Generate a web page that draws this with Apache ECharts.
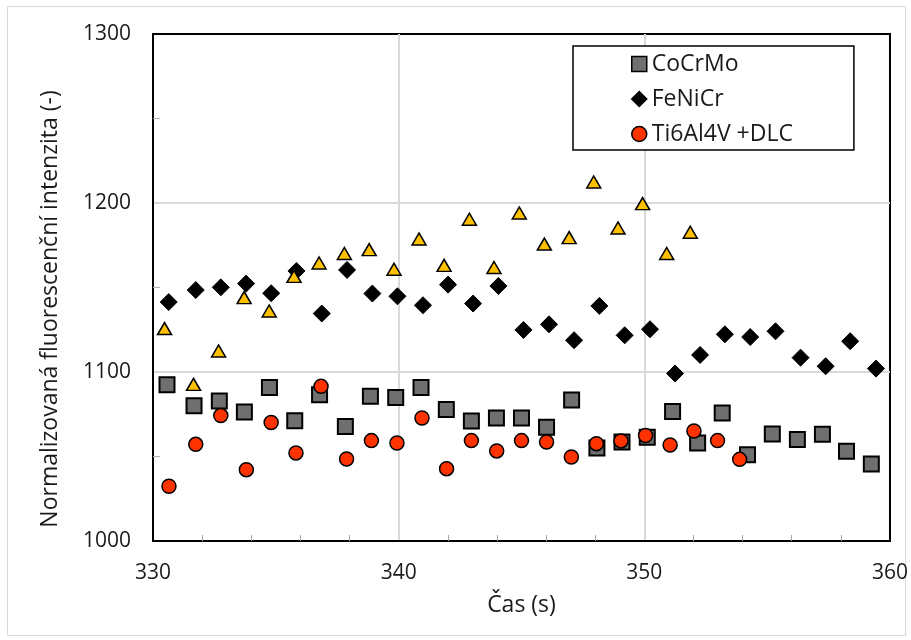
<!DOCTYPE html>
<html>
<head>
<meta charset="utf-8">
<script src="https://cdn.jsdelivr.net/npm/echarts@6/dist/echarts.min.js"></script>
<style>
  html, body { margin: 0; padding: 0; background: #fff; }
  #chart { width: 911px; height: 640px; }
</style>
</head>
<body>
<div id="chart"></div>
<script>
// Time stamps (s) and normalised fluorescence intensities for each sample
const timeCoCrMo = [330.57,331.67,332.70,333.72,334.74,335.77,336.78,337.83,338.85,339.88,340.91,341.94,342.96,343.98,345.00,346.02,347.04,348.07,349.09,350.12,351.15,352.17,353.17,354.20,355.21,356.23,357.25,358.23,359.24];
const valCoCrMo  = [1092.5,1080.1,1082.8,1076.3,1090.9,1071.2,1086.6,1067.7,1085.6,1084.9,1090.8,1077.8,1071.0,1072.8,1072.8,1067.3,1083.4,1055.0,1058.6,1061.4,1076.6,1058.0,1075.7,1051.1,1063.3,1060.0,1063.1,1053.1,1045.6];

const timeFeNiCr = [330.64,331.74,332.76,333.79,334.81,335.84,336.87,337.90,338.93,339.95,340.99,342.01,343.03,344.06,345.08,346.12,347.14,348.17,349.20,350.23,351.25,352.27,353.28,354.31,355.34,356.36,357.38,358.38,359.43];
const valFeNiCr  = [1141.4,1148.5,1150.1,1152.3,1146.6,1159.8,1134.6,1160.4,1146.4,1144.8,1139.5,1151.7,1140.5,1150.9,1124.9,1128.2,1118.8,1139.1,1121.7,1125.3,1099.1,1110.1,1122.3,1120.7,1124.1,1108.5,1103.4,1118.2,1102.0];

const timeTiDLC = [330.65,331.74,332.76,333.80,334.81,335.82,336.84,337.88,338.89,339.93,340.95,341.95,342.96,343.99,345.00,346.02,347.03,348.05,349.05,350.05,351.05,352.02,352.98,353.88];
const valTiDLC  = [1032.4,1057.2,1074.2,1042.2,1070.1,1052.1,1091.5,1048.5,1059.4,1058.0,1072.8,1042.8,1059.4,1053.3,1059.4,1058.6,1049.7,1057.6,1059.2,1062.4,1056.8,1065.1,1059.4,1048.3];

const timeTi = [330.47,331.65,332.67,333.71,334.73,335.74,336.76,337.79,338.80,339.81,340.83,341.85,342.88,343.88,344.91,345.93,346.94,347.94,348.93,349.93,350.91,351.87];
const valTi  = [1125.7,1092.7,1112.4,1144.0,1136.1,1156.6,1164.5,1170.1,1172.4,1160.8,1178.7,1163.1,1190.4,1161.8,1194.1,1175.7,1179.5,1212.4,1185.2,1199.6,1170.1,1182.7];

const seriesNames = ['CoCrMo', 'FeNiCr', 'Ti6Al4V +DLC', 'Ti6Al4V'];
const xName = 'Čas (s)';
const yName = 'Normalizovaná fluorescenční intenzita (-)';

function pairs(xs, ys) { return xs.map((x, i) => [x, ys[i]]); }

const FONT = '"Open Sans", "Noto Sans", sans-serif';
const TEXT = '#1a1a1a';

const chart = echarts.init(document.getElementById('chart'), null, { renderer: 'canvas' });

chart.setOption({
  backgroundColor: '#ffffff',
  animation: false,
  graphic: [
    {
      type: 'rect', silent: true, z: -10,
      shape: { x: 7.5, y: 6.5, width: 898, height: 629 },
      style: { fill: 'none', stroke: '#d9d9d9', lineWidth: 1 }
    },
    {
      type: 'text', silent: true,
      x: 50, y: 309, rotation: Math.PI / 2,
      style: {
        text: yName, fill: TEXT, font: '23px ' + FONT,
        align: 'center', verticalAlign: 'middle'
      }
    }
  ],
  grid: {
    left: 153, right: 21, top: 34, bottom: 99,
    show: true, borderColor: '#000', borderWidth: 2, backgroundColor: 'transparent'
  },
  legend: {
    data: seriesNames.slice(0, 3),
    orient: 'vertical',
    left: 573, top: 46,
    padding: [5, 61, 3, 58],
    itemGap: 9,
    itemWidth: 15, itemHeight: 15,
    itemStyle: { borderWidth: 1.5 },
    backgroundColor: '#fff',
    borderColor: '#000', borderWidth: 1.5,
    textStyle: { fontFamily: FONT, fontSize: 23, color: TEXT, lineHeight: 26, padding: [0, 0, 0, 0] },
    inactiveColor: '#999'
  },
  xAxis: {
    type: 'value', min: 330, max: 360, interval: 10,
    name: xName, nameLocation: 'middle', nameGap: 53,
    nameTextStyle: { fontFamily: FONT, fontSize: 23, color: TEXT },
    axisLine: { show: true, lineStyle: { color: '#000', width: 2 } },
    axisTick: { show: false, inside: true },
    minorTick: { show: true, splitNumber: 5, length: 6, lineStyle: { color: '#a6a6a6', width: 1 } },
    axisLabel: { fontFamily: FONT, fontSize: 21, color: TEXT, margin: 22, formatter: v => String(v) },
    splitLine: { show: true, showMinLine: false, showMaxLine: false, lineStyle: { color: '#d9d9d9', width: 2 } },
    minorSplitLine: { show: false }
  },
  yAxis: {
    type: 'value', min: 1000, max: 1300, interval: 100,
    axisLine: { show: true, lineStyle: { color: '#000', width: 2 } },
    axisTick: { show: false, inside: true },
    minorTick: { show: true, splitNumber: 2, length: 7, lineStyle: { color: '#b0b0b0', width: 1 } },
    axisLabel: { fontFamily: FONT, fontSize: 21, color: TEXT, margin: 22, formatter: v => String(v) },
    splitLine: { show: true, showMinLine: false, showMaxLine: false, lineStyle: { color: '#d9d9d9', width: 2 } },
    minorSplitLine: { show: false }
  },
  series: [
    {
      name: seriesNames[0], type: 'scatter', z: 2,
      symbol: 'rect', symbolSize: 15,
      itemStyle: { color: '#6f6f6f', borderColor: '#000', borderWidth: 2, opacity: 1 },
      data: pairs(timeCoCrMo, valCoCrMo)
    },
    {
      name: seriesNames[1], type: 'scatter', z: 3,
      symbol: 'diamond', symbolSize: 17,
      itemStyle: { color: '#000', borderColor: '#000', borderWidth: 1, opacity: 1 },
      data: pairs(timeFeNiCr, valFeNiCr)
    },
    {
      name: seriesNames[2], type: 'scatter', z: 4,
      symbol: 'circle', symbolSize: 14,
      itemStyle: { color: '#ff3300', borderColor: '#000', borderWidth: 1.5, opacity: 1 },
      data: pairs(timeTiDLC, valTiDLC)
    },
    {
      name: seriesNames[3], type: 'scatter', z: 5,
      symbol: 'triangle', symbolSize: [14, 12],
      itemStyle: { color: '#ffc000', borderColor: '#000', borderWidth: 1.5, opacity: 1 },
      data: pairs(timeTi, valTi)
    }
  ]
});
</script>
</body>
</html>
